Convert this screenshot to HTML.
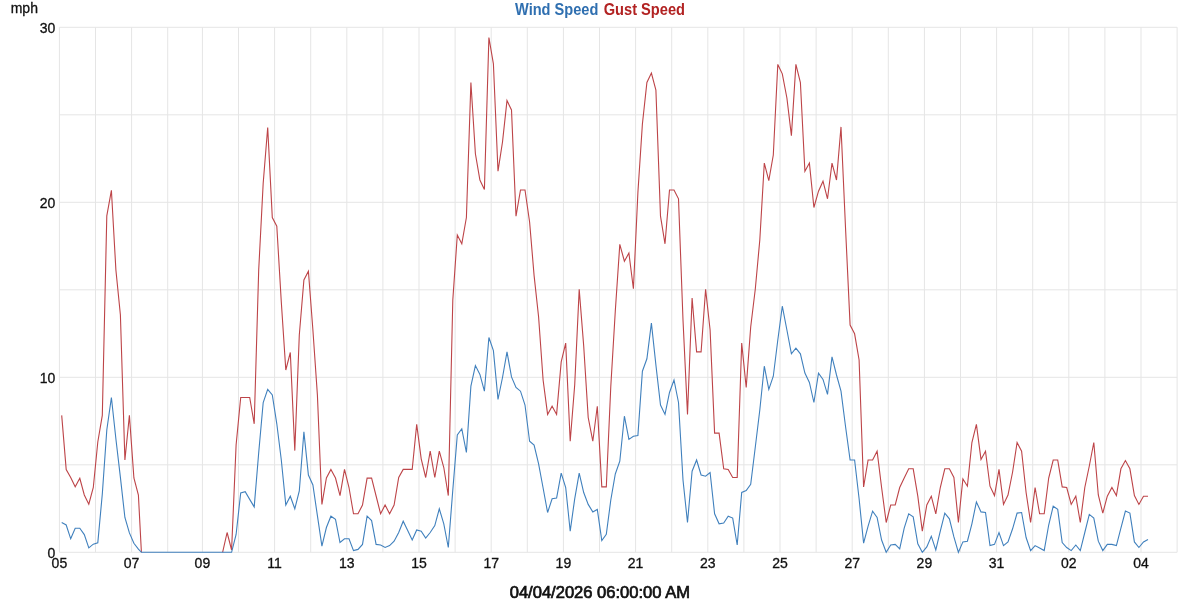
<!DOCTYPE html>
<html><head><meta charset="utf-8"><title>Wind Speed</title>
<style>
html,body{margin:0;padding:0;background:#fff;}
body{width:1200px;height:600px;overflow:hidden;}
svg{display:block;will-change:transform;font-family:"Liberation Sans",Arial,sans-serif;}
.t{font-size:14px;fill:#111;stroke:#111;stroke-width:0.3px;}
</style></head><body>
<svg width="1200" height="600" viewBox="0 0 1200 600">
<rect width="1200" height="600" fill="#fff"/>
<g stroke="#e5e5e5" stroke-width="1" fill="none">
<line x1="59.40" y1="27.3" x2="59.40" y2="552.3"/>
<line x1="95.50" y1="27.3" x2="95.50" y2="552.3"/>
<line x1="131.60" y1="27.3" x2="131.60" y2="552.3"/>
<line x1="167.70" y1="27.3" x2="167.70" y2="552.3"/>
<line x1="202.40" y1="27.3" x2="202.40" y2="552.3"/>
<line x1="238.50" y1="27.3" x2="238.50" y2="552.3"/>
<line x1="274.60" y1="27.3" x2="274.60" y2="552.3"/>
<line x1="310.70" y1="27.3" x2="310.70" y2="552.3"/>
<line x1="346.80" y1="27.3" x2="346.80" y2="552.3"/>
<line x1="382.90" y1="27.3" x2="382.90" y2="552.3"/>
<line x1="419.00" y1="27.3" x2="419.00" y2="552.3"/>
<line x1="455.10" y1="27.3" x2="455.10" y2="552.3"/>
<line x1="491.20" y1="27.3" x2="491.20" y2="552.3"/>
<line x1="527.30" y1="27.3" x2="527.30" y2="552.3"/>
<line x1="563.40" y1="27.3" x2="563.40" y2="552.3"/>
<line x1="599.50" y1="27.3" x2="599.50" y2="552.3"/>
<line x1="635.60" y1="27.3" x2="635.60" y2="552.3"/>
<line x1="671.70" y1="27.3" x2="671.70" y2="552.3"/>
<line x1="707.80" y1="27.3" x2="707.80" y2="552.3"/>
<line x1="743.90" y1="27.3" x2="743.90" y2="552.3"/>
<line x1="780.00" y1="27.3" x2="780.00" y2="552.3"/>
<line x1="816.10" y1="27.3" x2="816.10" y2="552.3"/>
<line x1="852.20" y1="27.3" x2="852.20" y2="552.3"/>
<line x1="888.30" y1="27.3" x2="888.30" y2="552.3"/>
<line x1="924.40" y1="27.3" x2="924.40" y2="552.3"/>
<line x1="960.50" y1="27.3" x2="960.50" y2="552.3"/>
<line x1="996.60" y1="27.3" x2="996.60" y2="552.3"/>
<line x1="1032.70" y1="27.3" x2="1032.70" y2="552.3"/>
<line x1="1068.80" y1="27.3" x2="1068.80" y2="552.3"/>
<line x1="1104.90" y1="27.3" x2="1104.90" y2="552.3"/>
<line x1="1141.00" y1="27.3" x2="1141.00" y2="552.3"/>
<line x1="1177.10" y1="27.3" x2="1177.10" y2="552.3"/>
<line x1="59.4" y1="552.30" x2="1177.1" y2="552.30"/>
<line x1="59.4" y1="464.80" x2="1177.1" y2="464.80"/>
<line x1="59.4" y1="377.30" x2="1177.1" y2="377.30"/>
<line x1="59.4" y1="289.80" x2="1177.1" y2="289.80"/>
<line x1="59.4" y1="202.30" x2="1177.1" y2="202.30"/>
<line x1="59.4" y1="114.80" x2="1177.1" y2="114.80"/>
<line x1="59.4" y1="27.30" x2="1177.1" y2="27.30"/>
</g>
<polyline fill="none" stroke="#bd4448" stroke-width="1.1" stroke-linejoin="miter" points="61.7,415.4 66.2,469.5 70.7,477.5 75.2,486.7 79.8,478.3 84.3,495.0 88.8,504.2 93.3,487.5 97.8,442.0 102.3,415.4 106.8,215.8 111.4,190.3 115.9,270.0 120.4,315.0 124.9,460.0 129.4,415.4 133.9,478.0 138.4,495.0 141.4,552.3"/>
<polyline fill="none" stroke="#bd4448" stroke-width="1.1" stroke-linejoin="miter" points="222.6,552.3 227.1,532.5 231.6,550.0 236.1,445.0 240.7,397.5 245.2,397.5 249.7,397.5 254.2,423.8 258.7,270.0 263.2,183.0 267.7,127.5 272.3,217.5 276.8,226.2 281.3,302.0 285.8,370.0 290.3,352.5 294.8,450.6 299.3,335.0 303.9,280.0 308.4,271.2 312.9,330.0 317.4,395.0 321.9,504.4 326.4,478.0 330.9,469.4 335.5,478.0 340.0,495.6 344.5,469.4 349.0,487.5 353.5,513.8 358.0,513.8 362.5,505.0 367.1,478.1 371.6,478.1 376.1,496.0 380.6,513.8 385.1,505.0 389.6,513.8 394.1,505.0 398.7,477.5 403.2,469.4 407.7,469.4 412.2,469.4 416.7,424.4 421.2,458.8 425.7,477.5 430.2,451.2 434.8,477.5 439.3,451.2 443.8,467.5 448.3,495.6 452.8,300.0 457.3,235.0 461.8,243.8 466.4,217.5 470.9,82.5 475.4,153.8 479.9,180.0 484.4,189.4 488.9,37.5 493.4,63.8 498.0,171.2 502.5,142.0 507.0,100.6 511.5,110.0 516.0,216.2 520.5,190.0 525.0,190.0 529.6,222.0 534.1,275.6 538.6,317.0 543.1,380.0 547.6,414.4 552.1,406.2 556.6,414.4 561.2,361.9 565.7,343.1 570.2,441.2 574.7,385.0 579.2,289.4 583.7,346.0 588.2,417.5 592.8,441.2 597.3,406.2 601.8,486.9 606.3,486.9 610.8,386.2 615.3,311.0 619.8,244.4 624.4,261.2 628.9,253.1 633.4,288.8 637.9,192.5 642.4,124.0 646.9,82.5 651.4,73.1 655.9,90.0 660.5,216.2 665.0,243.8 669.5,190.0 674.0,190.0 678.5,198.8 683.0,320.0 687.5,414.4 692.1,298.1 696.6,351.9 701.1,351.9 705.6,289.4 710.1,330.0 714.6,433.1 719.1,433.1 723.7,468.8 728.2,469.4 732.7,477.5 737.2,477.5 741.7,343.1 746.2,387.5 750.7,327.0 755.3,289.0 759.8,240.0 764.3,163.1 768.8,180.6 773.3,155.0 777.8,64.4 782.3,73.8 786.9,98.0 791.4,135.6 795.9,64.4 800.4,82.5 804.9,171.2 809.4,163.1 813.9,207.5 818.5,191.2 823.0,181.2 827.5,198.8 832.0,163.1 836.5,180.0 841.0,126.9 845.5,227.5 850.1,325.0 854.6,333.8 859.1,360.0 863.6,486.9 868.1,460.0 872.6,460.0 877.1,451.2 881.6,487.5 886.2,522.5 890.7,505.0 895.2,505.0 899.7,487.5 904.2,478.0 908.7,468.8 913.2,468.8 917.8,496.2 922.3,531.2 926.8,505.0 931.3,496.2 935.8,513.8 940.3,487.5 944.8,468.8 949.4,468.8 953.9,477.5 958.4,522.5 962.9,479.0 967.4,486.2 971.9,442.5 976.4,424.4 981.0,459.4 985.5,451.2 990.0,486.2 994.5,495.6 999.0,469.4 1003.5,504.4 1008.0,495.0 1012.6,472.0 1017.1,442.5 1021.6,451.2 1026.1,492.5 1030.6,522.5 1035.1,487.5 1039.6,513.8 1044.2,513.8 1048.7,478.0 1053.2,460.0 1057.7,460.0 1062.2,486.9 1066.7,487.5 1071.2,504.4 1075.8,496.2 1080.3,522.5 1084.8,487.5 1089.3,466.0 1093.8,442.5 1098.3,495.0 1102.8,513.1 1107.3,496.2 1111.9,487.5 1116.4,495.6 1120.9,468.8 1125.4,460.6 1129.9,468.8 1134.4,495.6 1138.9,504.4 1143.5,496.2 1148.0,496.2"/>
<polyline fill="none" stroke="#4080bd" stroke-width="1.1" stroke-linejoin="miter" points="61.7,522.5 66.2,525.0 70.7,538.8 75.2,528.3 79.8,528.3 84.3,534.6 88.8,547.9 93.3,544.2 97.8,542.9 102.3,494.0 106.8,430.0 111.4,397.5 115.9,439.0 120.4,477.4 124.9,517.5 129.4,532.9 133.9,543.3 138.4,549.2 141.4,552.3 145.9,552.3 150.4,552.3 154.9,552.3 159.4,552.3 163.9,552.3 168.4,552.3 173.0,552.3 177.5,552.3 182.0,552.3 186.5,552.3 191.0,552.3 195.5,552.3 200.0,552.3 204.5,552.3 209.1,552.3 213.6,552.3 218.1,552.3 222.6,552.3 227.1,552.3 231.6,552.3 236.1,534.5 240.7,492.9 245.2,491.7 249.7,499.4 254.2,506.9 258.7,452.7 263.2,402.5 267.7,389.4 272.3,395.0 276.8,423.8 281.3,460.0 285.8,505.0 290.3,496.2 294.8,508.8 299.3,491.0 303.9,431.9 308.4,475.0 312.9,485.0 317.4,515.6 321.9,546.2 326.4,527.5 330.9,516.2 335.5,519.4 340.0,542.5 344.5,538.8 349.0,538.8 353.5,550.6 358.0,549.4 362.5,544.4 367.1,516.2 371.6,520.6 376.1,544.4 380.6,545.0 385.1,547.5 389.6,545.6 394.1,541.2 398.7,532.5 403.2,521.2 407.7,530.6 412.2,540.0 416.7,530.0 421.2,531.2 425.7,538.1 430.2,532.5 434.8,525.6 439.3,508.8 443.8,523.8 448.3,547.5 452.8,490.0 457.3,435.0 461.8,428.8 466.4,452.5 470.9,386.2 475.4,365.6 479.9,374.4 484.4,391.2 488.9,337.5 493.4,350.6 498.0,399.4 502.5,377.5 507.0,351.9 511.5,376.9 516.0,387.5 520.5,391.2 525.0,405.0 529.6,441.2 534.1,445.0 538.6,463.8 543.1,488.0 547.6,512.5 552.1,498.8 556.6,498.1 561.2,473.1 565.7,487.5 570.2,531.2 574.7,498.8 579.2,473.1 583.7,492.5 588.2,504.4 592.8,511.9 597.3,509.4 601.8,540.6 606.3,534.4 610.8,500.0 615.3,474.0 619.8,461.2 624.4,416.2 628.9,439.4 633.4,436.2 637.9,435.6 642.4,371.2 646.9,358.8 651.4,323.1 655.9,365.0 660.5,405.0 665.0,414.4 669.5,392.5 674.0,380.0 678.5,402.5 683.0,480.0 687.5,522.5 692.1,471.2 696.6,460.0 701.1,475.0 705.6,476.2 710.1,472.5 714.6,513.8 719.1,523.8 723.7,523.1 728.2,516.2 732.7,518.1 737.2,545.0 741.7,492.5 746.2,490.6 750.7,484.4 755.3,447.0 759.8,410.0 764.3,366.2 768.8,389.4 773.3,376.2 777.8,340.0 782.3,306.2 786.9,330.0 791.4,353.8 795.9,348.1 800.4,353.8 804.9,373.1 809.4,382.5 813.9,402.5 818.5,373.1 823.0,379.4 827.5,394.4 832.0,356.9 836.5,375.0 841.0,391.2 845.5,426.2 850.1,460.0 854.6,460.0 859.1,498.8 863.6,543.1 868.1,526.2 872.6,511.2 877.1,517.5 881.6,540.0 886.2,552.3 890.7,545.0 895.2,544.4 899.7,548.8 904.2,528.1 908.7,513.8 913.2,516.9 917.8,543.8 922.3,552.3 926.8,546.9 931.3,536.2 935.8,550.0 940.3,531.2 944.8,513.1 949.4,518.8 953.9,536.9 958.4,552.3 962.9,541.9 967.4,541.2 971.9,523.8 976.4,501.9 981.0,511.9 985.5,512.5 990.0,545.6 994.5,544.4 999.0,532.5 1003.5,545.6 1008.0,541.9 1012.6,528.8 1017.1,513.1 1021.6,512.5 1026.1,537.5 1030.6,550.6 1035.1,545.6 1039.6,548.1 1044.2,550.6 1048.7,525.0 1053.2,506.2 1057.7,509.4 1062.2,542.5 1066.7,547.5 1071.2,550.6 1075.8,545.0 1080.3,550.6 1084.8,532.5 1089.3,514.4 1093.8,518.1 1098.3,541.2 1102.8,550.6 1107.3,544.4 1111.9,544.4 1116.4,545.6 1120.9,528.1 1125.4,511.0 1129.9,513.1 1134.4,541.9 1138.9,547.5 1143.5,541.9 1148.0,539.4"/>
<text x="10.7" y="12.7" class="t">mph</text>
<g class="t">
<text x="55.4" y="558.0" text-anchor="end">0</text>
<text x="55.4" y="383.0" text-anchor="end">10</text>
<text x="55.4" y="208.0" text-anchor="end">20</text>
<text x="55.4" y="33.0" text-anchor="end">30</text>
<text x="59.4" y="568" text-anchor="middle">05</text>
<text x="131.6" y="568" text-anchor="middle">07</text>
<text x="202.4" y="568" text-anchor="middle">09</text>
<text x="274.6" y="568" text-anchor="middle">11</text>
<text x="346.8" y="568" text-anchor="middle">13</text>
<text x="419.0" y="568" text-anchor="middle">15</text>
<text x="491.2" y="568" text-anchor="middle">17</text>
<text x="563.4" y="568" text-anchor="middle">19</text>
<text x="635.6" y="568" text-anchor="middle">21</text>
<text x="707.8" y="568" text-anchor="middle">23</text>
<text x="780.0" y="568" text-anchor="middle">25</text>
<text x="852.2" y="568" text-anchor="middle">27</text>
<text x="924.4" y="568" text-anchor="middle">29</text>
<text x="996.6" y="568" text-anchor="middle">31</text>
<text x="1068.8" y="568" text-anchor="middle">02</text>
<text x="1141.0" y="568" text-anchor="middle">04</text>
</g>
<text x="515" y="14.7" font-size="16" font-weight="bold" fill="#2f6fb0" textLength="83.3" lengthAdjust="spacingAndGlyphs">Wind Speed</text>
<text x="603.7" y="14.7" font-size="16" font-weight="bold" fill="#b22222" textLength="81.3" lengthAdjust="spacingAndGlyphs">Gust Speed</text>
<text x="509.7" y="597.8" font-size="16" fill="#111" stroke="#111" stroke-width="0.7" textLength="180.3" lengthAdjust="spacingAndGlyphs">04/04/2026 06:00:00 AM</text>
</svg>
</body></html>
